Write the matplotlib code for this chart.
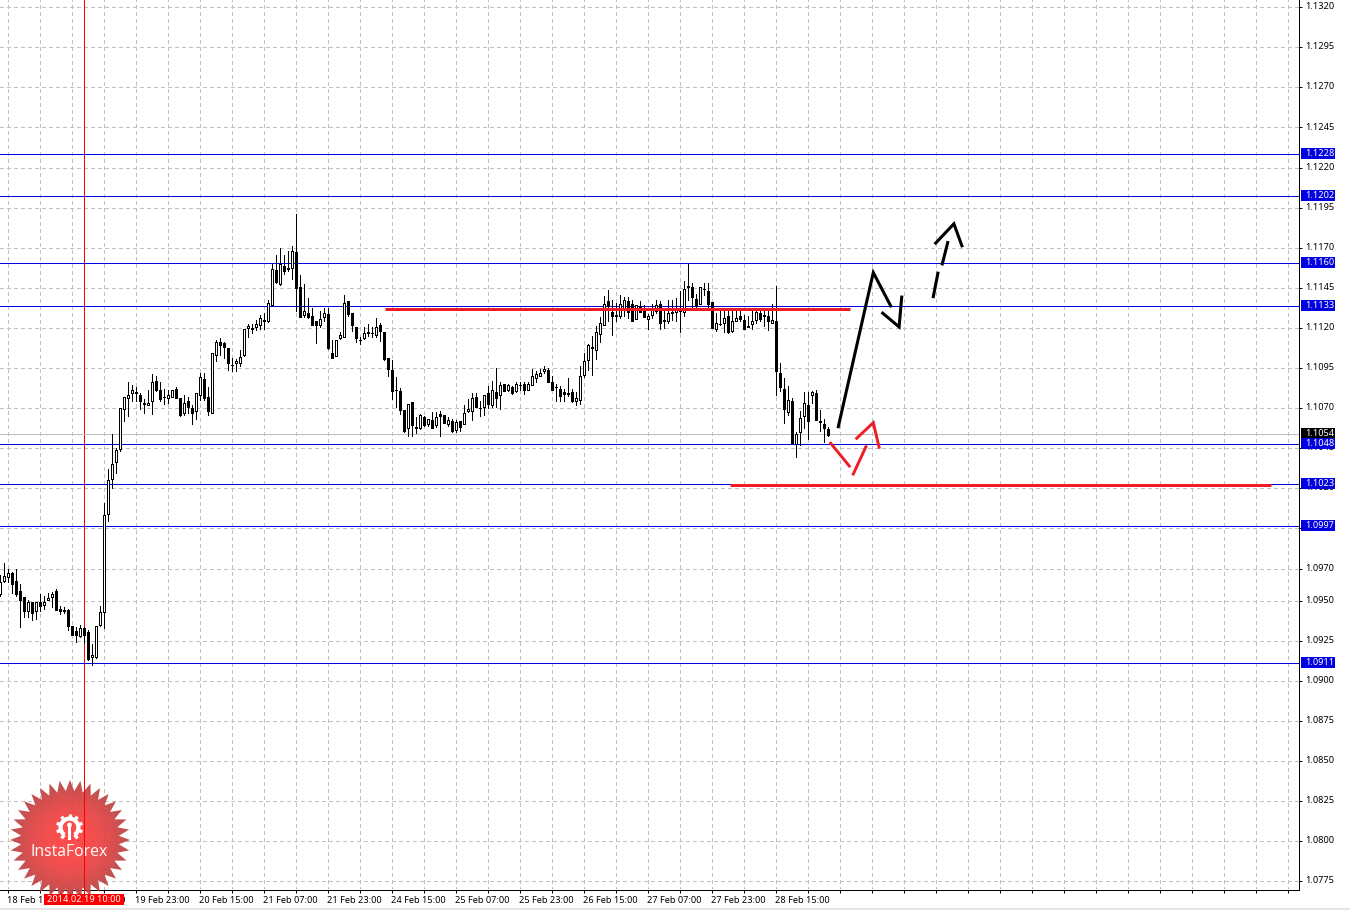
import numpy as np
import matplotlib
matplotlib.use('Agg')
import matplotlib.pyplot as plt
from matplotlib.patches import Polygon, Rectangle, Wedge, Circle
from matplotlib.transforms import blended_transform_factory

plt.rcParams['font.family'] = ['Noto Sans', 'DejaVu Sans']

# hourly candles, left to right
opens = [
    1.09538, 1.09625, 1.09648, 1.09675, 1.09621, 1.09558, 1.0952, 1.09435, 1.09494, 1.09435,
    1.0949, 1.09473, 1.09506, 1.09523, 1.09558, 1.09446, 1.09444, 1.09442, 1.0934, 1.09308,
    1.09277, 1.09327, 1.09302, 1.09146, 1.09146, 1.09346, 1.09431, 1.10038, 1.10256, 1.10363,
    1.10446, 1.10696, 1.1076, 1.10794, 1.10801, 1.10781, 1.10731, 1.10717, 1.10742, 1.10869,
    1.10813, 1.10771, 1.1076, 1.10769, 1.1082, 1.10763, 1.10667, 1.10744, 1.107, 1.10681,
    1.10781, 1.10881, 1.10769, 1.10667, 1.1103, 1.1111, 1.11106, 1.11075, 1.10971, 1.10981,
    1.10981, 1.11033, 1.112, 1.112, 1.11206, 1.11221, 1.11252, 1.11242, 1.11342, 1.11558,
    1.11475, 1.11588, 1.11571, 1.11573, 1.11671, 1.11458, 1.11283, 1.11296, 1.11275, 1.1124,
    1.11215, 1.11267, 1.11288, 1.11046, 1.11023, 1.11138, 1.11142, 1.11369, 1.11294, 1.11208,
    1.11125, 1.11138, 1.11175, 1.11171, 1.11156, 1.11221, 1.11177, 1.11013, 1.1094, 1.10815,
    1.10808, 1.10688, 1.10579, 1.10738, 1.10583, 1.10573, 1.10646, 1.106, 1.10627, 1.10592,
    1.10663, 1.10656, 1.10602, 1.10621, 1.10565, 1.10619, 1.106, 1.10679, 1.10679, 1.10769,
    1.10702, 1.1071, 1.10794, 1.10719, 1.108, 1.10779, 1.1085, 1.10815, 1.10833, 1.10808,
    1.10844, 1.1085, 1.10815, 1.10842, 1.1089, 1.10898, 1.10929, 1.10935, 1.10865, 1.10833,
    1.10821, 1.10802, 1.10794, 1.10802, 1.10742, 1.10748, 1.10908, 1.10998, 1.11081, 1.1106,
    1.1116, 1.11221, 1.11365, 1.11302, 1.11283, 1.11277, 1.1131, 1.11365, 1.11352, 1.11258,
    1.11335, 1.11315, 1.11258, 1.11279, 1.11308, 1.1135, 1.1125, 1.11242, 1.113, 1.113,
    1.11308, 1.113, 1.11463, 1.11456, 1.11383, 1.1135, 1.11444, 1.11433, 1.11363, 1.11192,
    1.11227, 1.11231, 1.11275, 1.11179, 1.11246, 1.11275, 1.1125, 1.11213, 1.11225, 1.11248,
    1.11294, 1.11281, 1.11275, 1.11231, 1.11246, 1.10921, 1.10819, 1.10675, 1.10746, 1.10477,
    1.1055, 1.10648, 1.10721, 1.10779, 1.10794, 1.10621, 1.10602, 1.10571,
]
closes = [
    1.09617, 1.09656, 1.09669, 1.09604, 1.09542, 1.09502, 1.09438, 1.0949, 1.09423, 1.09494,
    1.09465, 1.09494, 1.09519, 1.09544, 1.09442, 1.09435, 1.09437, 1.0934, 1.09288, 1.09285,
    1.09331, 1.09285, 1.09137, 1.09162, 1.09344, 1.09431, 1.10033, 1.1025, 1.1035, 1.10438,
    1.107, 1.10769, 1.10781, 1.10813, 1.10792, 1.10742, 1.10727, 1.10731, 1.10863, 1.10815,
    1.10758, 1.10767, 1.10781, 1.10813, 1.10764, 1.10657, 1.10731, 1.1071, 1.10667, 1.10794,
    1.10894, 1.1076, 1.10679, 1.11044, 1.11113, 1.11096, 1.11079, 1.10981, 1.10967, 1.10996,
    1.11019, 1.11194, 1.1121, 1.11196, 1.11227, 1.11262, 1.11242, 1.11356, 1.11569, 1.11485,
    1.116, 1.11554, 1.11565, 1.11677, 1.11448, 1.11271, 1.11306, 1.11267, 1.11221, 1.11221,
    1.11256, 1.11294, 1.11073, 1.1101, 1.11127, 1.11156, 1.11356, 1.11285, 1.11217, 1.11135,
    1.11123, 1.11169, 1.11171, 1.11167, 1.11206, 1.11183, 1.11004, 1.10942, 1.10804, 1.10811,
    1.10689, 1.10558, 1.10725, 1.10592, 1.10579, 1.10656, 1.10592, 1.10629, 1.10577, 1.10646,
    1.1065, 1.10606, 1.10627, 1.1056, 1.10615, 1.10585, 1.10669, 1.10694, 1.10763, 1.10708,
    1.10698, 1.10781, 1.10727, 1.10813, 1.10765, 1.10844, 1.10808, 1.10844, 1.10796, 1.10852,
    1.10842, 1.1081, 1.10852, 1.109, 1.10913, 1.10921, 1.10946, 1.10865, 1.10815, 1.10829,
    1.10777, 1.1079, 1.1079, 1.10744, 1.10763, 1.10902, 1.10994, 1.11096, 1.11073, 1.11177,
    1.11231, 1.1135, 1.11335, 1.11273, 1.11273, 1.11352, 1.11377, 1.113, 1.11246, 1.11344,
    1.113, 1.11269, 1.11277, 1.11315, 1.11342, 1.11229, 1.11242, 1.11294, 1.11292, 1.11315,
    1.11315, 1.11444, 1.11454, 1.11392, 1.11335, 1.11456, 1.1144, 1.11346, 1.11198, 1.11231,
    1.11223, 1.11263, 1.11173, 1.11246, 1.11263, 1.11258, 1.11196, 1.11208, 1.11242, 1.113,
    1.11258, 1.11273, 1.11242, 1.11252, 1.10929, 1.10829, 1.10696, 1.10752, 1.10485, 1.10538,
    1.10638, 1.10731, 1.10617, 1.108, 1.10627, 1.10613, 1.10579, 1.10533,
]
highs = [
    1.09658, 1.09735, 1.097, 1.0968, 1.097, 1.09606, 1.0952, 1.09506, 1.09494, 1.09494,
    1.09538, 1.09527, 1.09548, 1.09554, 1.0957, 1.09467, 1.0946, 1.09446, 1.09344, 1.09335,
    1.0935, 1.09338, 1.09315, 1.09227, 1.09344, 1.09465, 1.10106, 1.10319, 1.10538, 1.1045,
    1.107, 1.10769, 1.10863, 1.10844, 1.10832, 1.10794, 1.10758, 1.10813, 1.10913, 1.109,
    1.10863, 1.1082, 1.10813, 1.10813, 1.10832, 1.10763, 1.10781, 1.10769, 1.10721, 1.10794,
    1.10919, 1.10919, 1.10832, 1.11044, 1.11127, 1.11138, 1.1111, 1.11075, 1.11013, 1.11006,
    1.11065, 1.11194, 1.11227, 1.11227, 1.11248, 1.11279, 1.1129, 1.11375, 1.116, 1.11652,
    1.117, 1.11656, 1.11679, 1.11708, 1.11908, 1.11527, 1.11475, 1.11388, 1.11325, 1.1124,
    1.11308, 1.11323, 1.11323, 1.11125, 1.11127, 1.11177, 1.11406, 1.11369, 1.11294, 1.11208,
    1.11146, 1.11208, 1.11227, 1.11208, 1.1126, 1.11229, 1.11177, 1.11013, 1.11, 1.10892,
    1.10825, 1.10688, 1.10725, 1.10738, 1.10642, 1.10662, 1.10652, 1.10629, 1.10673, 1.10677,
    1.10679, 1.10656, 1.10642, 1.10631, 1.10625, 1.10619, 1.10719, 1.10756, 1.10794, 1.10794,
    1.10742, 1.10781, 1.1084, 1.10867, 1.1095, 1.10865, 1.1085, 1.10852, 1.1084, 1.10865,
    1.10865, 1.10865, 1.10865, 1.10946, 1.10933, 1.10944, 1.10965, 1.10948, 1.109, 1.1085,
    1.10835, 1.10819, 1.10885, 1.10819, 1.10798, 1.10965, 1.11044, 1.11102, 1.11152, 1.1121,
    1.11269, 1.11402, 1.11435, 1.11377, 1.11356, 1.11408, 1.11394, 1.11394, 1.11377, 1.11344,
    1.11365, 1.1134, 1.11285, 1.11346, 1.11377, 1.11367, 1.11308, 1.11377, 1.11377, 1.11388,
    1.11433, 1.11492, 1.11596, 1.11481, 1.11412, 1.11456, 1.11481, 1.11481, 1.11363, 1.11294,
    1.11304, 1.11315, 1.11325, 1.11304, 1.11304, 1.11315, 1.1128, 1.11275, 1.11315, 1.11315,
    1.11315, 1.11315, 1.11315, 1.11346, 1.1146, 1.10981, 1.10888, 1.10835, 1.10763, 1.1055,
    1.10679, 1.108, 1.108, 1.10804, 1.10815, 1.1069, 1.10631, 1.10581,
]
lows = [
    1.0953, 1.09617, 1.09617, 1.0955, 1.0953, 1.09335, 1.094, 1.094, 1.0938, 1.09385,
    1.09438, 1.0945, 1.09502, 1.0946, 1.09442, 1.09415, 1.0942, 1.09315, 1.09285, 1.09242,
    1.09273, 1.09238, 1.0913, 1.091, 1.09142, 1.0934, 1.0933, 1.09998, 1.10202, 1.10298,
    1.10435, 1.10617, 1.10648, 1.10744, 1.10744, 1.10692, 1.10667, 1.10717, 1.10662, 1.10806,
    1.10744, 1.10725, 1.10731, 1.10769, 1.1076, 1.10648, 1.1066, 1.10667, 1.10598, 1.10635,
    1.10748, 1.10752, 1.1066, 1.10667, 1.10992, 1.11033, 1.11013, 1.1094, 1.10929, 1.10929,
    1.10965, 1.11027, 1.11144, 1.11169, 1.1119, 1.11196, 1.11196, 1.11235, 1.11337, 1.11479,
    1.11465, 1.11533, 1.11554, 1.11504, 1.11308, 1.11267, 1.11271, 1.11262, 1.11217, 1.11104,
    1.11208, 1.11246, 1.11067, 1.1101, 1.11023, 1.11133, 1.11142, 1.11277, 1.11183, 1.11115,
    1.111, 1.11133, 1.11152, 1.11146, 1.11146, 1.11121, 1.11, 1.10902, 1.10756, 1.10704,
    1.10662, 1.10554, 1.10527, 1.10527, 1.10544, 1.10569, 1.1059, 1.1059, 1.10577, 1.10583,
    1.10527, 1.10606, 1.1059, 1.10548, 1.10548, 1.1056, 1.106, 1.10673, 1.10627, 1.10706,
    1.10648, 1.10658, 1.107, 1.1071, 1.1071, 1.10696, 1.10804, 1.10808, 1.1079, 1.10802,
    1.10815, 1.1079, 1.1081, 1.10842, 1.10863, 1.10898, 1.10917, 1.10865, 1.1081, 1.10746,
    1.10746, 1.10746, 1.10777, 1.1074, 1.10717, 1.10727, 1.10894, 1.1094, 1.10908, 1.11006,
    1.1111, 1.11221, 1.11242, 1.11158, 1.11242, 1.11262, 1.11277, 1.11262, 1.11242, 1.11258,
    1.113, 1.11269, 1.11196, 1.11263, 1.11294, 1.11192, 1.112, 1.11229, 1.11252, 1.11246,
    1.11173, 1.11273, 1.11377, 1.11315, 1.11325, 1.11346, 1.11408, 1.11325, 1.11198, 1.11179,
    1.11219, 1.11175, 1.11169, 1.11175, 1.11242, 1.11242, 1.11192, 1.11208, 1.11196, 1.11231,
    1.11242, 1.1121, 1.1119, 1.11231, 1.10779, 1.10804, 1.1061, 1.10658, 1.10485, 1.10398,
    1.10471, 1.10575, 1.10508, 1.10731, 1.10627, 1.1056, 1.10488, 1.10527,
]

y_ticks = [1.1320, 1.1295, 1.1270, 1.1245, 1.1220, 1.1195, 1.1170, 1.1145, 1.1120, 1.1095,
           1.1070, 1.1045, 1.1020, 1.0995, 1.0970, 1.0950, 1.0925, 1.0900, 1.0875, 1.0850,
           1.0825, 1.0800, 1.0775]
x_labels = ['18 Feb 15:00', '19 Feb 07:00', '19 Feb 23:00', '20 Feb 15:00', '21 Feb 07:00',
            '21 Feb 23:00', '24 Feb 15:00', '25 Feb 07:00', '25 Feb 23:00', '26 Feb 15:00',
            '27 Feb 07:00', '27 Feb 23:00', '28 Feb 15:00']

# the tags show four digits, the lines sit on the finer quote
levels = [1.122835, 1.120217, 1.11604, 1.113359, 1.104756, 1.102262, 1.099643, 1.091102]
level_labels = ['1.1228', '1.1202', '1.1160', '1.1133', '1.1048', '1.1023', '1.0997', '1.0911']
last_price = 1.105379
last_label = '1.1054'
cursor_bar = 21
cursor_label = '2014.02.19 10:00'

# hand drawn segments on the chart, as (bar, price)
red_levels = [(96.2, 212.4, 1.11318), (182.4, 317.7, 1.10223)]
black_strokes = [
    [(209.5, 1.10584), (218.25, 1.11545), (222.6, 1.11337)],
    [(220.6, 1.11292), (224.7, 1.11206), (225.35, 1.11392)],
    [(233.25, 1.11395), (234.4, 1.11541)],
    [(235.5, 1.11599), (236.85, 1.11732)],
    [(233.85, 1.11729), (238.4, 1.11849), (240.4, 1.11712)],
]
red_strokes = [
    [(207.6, 1.10481), (212.25, 1.10339)],
    [(213.25, 1.10289), (216.4, 1.10459)],
    [(214.1, 1.10512), (218.25, 1.10609), (219.7, 1.10456)],
]

BLUE = '#0000E0'
RED = '#EE1C25'
ONE_PX = 0.72

fig = plt.figure(figsize=(13.5, 9.1), dpi=100, facecolor='white')
ax = fig.add_axes([0, 19.7 / 910, 1299.3 / 1350, 890.3 / 910])
ax.set_xlim(-0.075, 324.75)
ax.set_ylim(1.076938, 1.132443)
ax.set_axisbelow(True)

for s in ['top', 'left']:
    ax.spines[s].set_visible(False)
for s in ['right', 'bottom']:
    ax.spines[s].set_linewidth(ONE_PX)
    ax.spines[s].set_antialiased(False)

grid_bars = np.arange(2, 325, 8)
ax.set_xticks(grid_bars)
ax.set_xticklabels([])
ax.set_yticks(y_ticks)
ax.set_yticklabels([])
ax.yaxis.tick_right()
ax.tick_params(axis='both', length=2.5, width=ONE_PX)
ax.grid(True, color='#C0C0C0', linewidth=ONE_PX, linestyle=(0, (3, 3)), antialiased=False)

xt = blended_transform_factory(ax.transData, ax.transAxes)
yt = blended_transform_factory(ax.transAxes, ax.transData)
text_x = 1305 / 1299.3
box_x = 1301 / 1299.3
box_w = 34 / 1299.3
box_h = 0.00068

# x labels start at their tick, every second grid line
for i, lab in enumerate(x_labels):
    ax.text(grid_bars[i * 2] - 0.3, -6 / 890.3, lab, transform=xt, fontsize=6.6,
            ha='left', va='top', clip_on=False)

for v in y_ticks:
    ax.text(text_x, v + 0.00002, '%.4f' % v, transform=yt, fontsize=6.6,
            ha='left', va='center', clip_on=False, zorder=3)

ax.axvline(cursor_bar, color='#FF0000', linewidth=ONE_PX, antialiased=False, zorder=1)
ax.axhline(last_price, color='#C0C0C0', linewidth=ONE_PX, antialiased=False, zorder=1)
for lv in levels:
    ax.axhline(lv, color=BLUE, linewidth=ONE_PX, antialiased=False, zorder=1.2)

# candles
o = np.array(opens)
c = np.array(closes)
bars = np.arange(len(o))
up = c >= o
ax.vlines(bars, lows, highs, color='black', linewidth=ONE_PX, antialiased=False, zorder=2)
ax.bar(bars, np.abs(c - o), bottom=np.minimum(o, c), width=0.5,
       color=np.where(up, 'white', 'black'), edgecolor='black', linewidth=ONE_PX,
       antialiased=False, zorder=2.1)

for x0, x1, p in red_levels:
    ax.plot([x0, x1], [p, p], color=RED, linewidth=2.16, solid_capstyle='butt', zorder=2.5)
for pts in black_strokes:
    xs, ys = zip(*pts)
    ax.plot(xs, ys, color='black', linewidth=2.2, solid_joinstyle='miter', zorder=2.6)
for pts in red_strokes:
    xs, ys = zip(*pts)
    ax.plot(xs, ys, color=RED, linewidth=2.1, solid_joinstyle='miter', zorder=2.6)

# price tags on the right axis
tags = [(last_price, last_label, 'black', 4)]
tags += [(lv, lab, BLUE, 5) for lv, lab in zip(levels, level_labels)]
for p, lab, col, zo in tags:
    ax.add_patch(Rectangle((box_x, p + 0.00006 - box_h / 2), box_w, box_h, transform=yt,
                           facecolor=col, edgecolor='none', clip_on=False, zorder=zo))
    ax.text(text_x, p + 0.00006, lab, transform=yt, color='white', fontsize=6.6,
            ha='left', va='center', clip_on=False, zorder=zo + 0.5)

# logo and date tag sit above the chart, drawn in picture pixels
top = fig.add_axes([0, 0, 1, 1], facecolor='none')
top.set_axis_off()

cx, cy = 70, 840
n_teeth = 36
ang = np.linspace(0, 2 * np.pi, n_teeth * 2, endpoint=False) - np.pi / 2
rad = np.where(np.arange(n_teeth * 2) % 2 == 0, 60, 49)
gy, gx = np.mgrid[-1:1:160j, -1:1:160j]
t = (np.clip(np.hypot(gx, gy), 0, 1) ** 2)[..., None]
rgb = (1 - t) * np.array([1.0, 0.25, 0.25]) + t * np.array([0.70, 0.27, 0.27])
rgba = np.dstack([rgb, np.full(t.shape, 0.93)])
im = top.imshow(rgba, extent=(cx - 60, cx + 60, cy + 60, cy - 60), aspect='auto', zorder=2)
top.set_xlim(0, 1350)
top.set_ylim(910, 0)
star = Polygon(np.c_[cx + rad * np.cos(ang), cy + rad * np.sin(ang)], closed=True,
               facecolor='none', edgecolor='none', transform=top.transData)
top.add_patch(star)
im.set_clip_path(star)

# the cursor line stays bright over the logo
top.plot([cursor_bar, cursor_bar], [778, 893], color='#FF0000', linewidth=ONE_PX, antialiased=False,
         transform=blended_transform_factory(ax.transData, top.transData), zorder=2.5)

# gear mark
gear_x, gear_y = 69.5, 827.5
top.add_patch(Wedge((gear_x, gear_y), 11, 125, 55, width=4.2, facecolor='white', edgecolor='none', zorder=3))
for a in np.arange(18, 378, 36):
    if a == 90:
        continue
    dx, dy = np.cos(np.radians(a)), np.sin(np.radians(a))
    top.plot([gear_x + 9 * dx, gear_x + 13.5 * dx], [gear_y + 9 * dy, gear_y + 13.5 * dy],
             color='white', linewidth=2.4, solid_capstyle='butt', zorder=3)
top.add_patch(Circle((gear_x, gear_y - 2.5), 2.4, facecolor='white', edgecolor='none', zorder=3))
top.add_patch(Rectangle((gear_x - 1.4, gear_y - 2), 2.8, 14, facecolor='white', edgecolor='none', zorder=3))
top.text(69.5, 852.5, 'InstaForex', color='white', fontsize=11.3, family=['Open Sans', 'DejaVu Sans'],
         ha='center', va='center', zorder=4)

top.add_patch(Rectangle((44, 893.5), 80, 11, facecolor='#FF0000', edgecolor='none', zorder=5))
top.text(84, 899, cursor_label, color='white', fontsize=6.6, ha='center', va='center', zorder=6)
top.add_patch(Rectangle((0, 908), 1350, 2, facecolor='#E6E6E6', edgecolor='none', zorder=1))

fig.savefig('out.png', dpi=100)
